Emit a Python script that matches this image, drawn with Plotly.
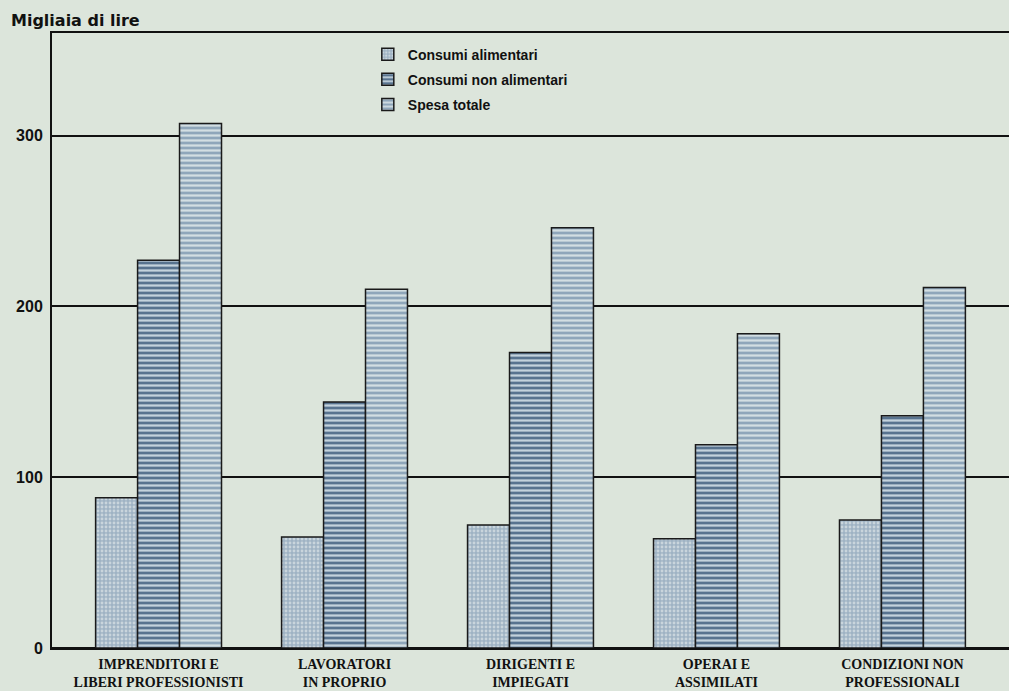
import plotly.graph_objects as go

categories = [
    "IMPRENDITORI E<br>LIBERI PROFESSIONISTI",
    "LAVORATORI<br>IN PROPRIO",
    "DIRIGENTI E<br>IMPIEGATI",
    "OPERAI E<br>ASSIMILATI",
    "CONDIZIONI NON<br>PROFESSIONALI",
]
series_names = ["Consumi alimentari", "Consumi non alimentari", "Spesa totale"]
consumi_alimentari = [88, 65, 72, 64, 75]
consumi_non_alimentari = [227, 144, 173, 119, 136]
spesa_totale = [307, 210, 246, 184, 211]
y_ticks = [0, 100, 200, 300]

bg = "#dce5db"
styles = [
    dict(shape=".", bgcolor="#9fb3c4", fgcolor="#c9d5dc", size=4, solidity=0.4),
    dict(shape="-", bgcolor="#58738f", fgcolor="#c3d2dc", size=5, solidity=0.45),
    dict(shape="-", bgcolor="#8fa6ba", fgcolor="#d3dee2", size=5, solidity=0.45),
]

fig = go.Figure()
for name, vals, st in zip(series_names, [consumi_alimentari, consumi_non_alimentari, spesa_totale], styles):
    fig.add_trace(go.Bar(
        name=name, x=categories, y=vals, legendgroup=name,
        marker=dict(color=st["bgcolor"], line=dict(color="#1a1a1a", width=1.5),
                    pattern=dict(shape=st["shape"], bgcolor=st["bgcolor"], fgcolor=st["fgcolor"],
                                 size=st["size"], solidity=st["solidity"], fillmode="replace")),
    ))

fig.update_layout(
    width=1009, height=691,
    margin=dict(l=52, r=0, t=33, b=43),
    paper_bgcolor=bg, plot_bgcolor=bg,
    barmode="group", bargap=0.323, bargroupgap=0,
    showlegend=True,
    legend=dict(x=0.33, y=0.991, xanchor="left", yanchor="top", bgcolor="rgba(0,0,0,0)",
                font=dict(family="Liberation Sans", size=14, color="#111", weight="bold"),
                tracegroupgap=4),
    font=dict(family="Liberation Sans", color="#111"),
)
fig.update_xaxes(
    range=[-0.573, 4.573], showgrid=False, showline=True, mirror=True,
    linecolor="#111", linewidth=2, ticks="", ticklabelstandoff=2,
    tickfont=dict(family="Liberation Serif", size=14, color="#111", weight="bold"),
)
fig.update_yaxes(
    range=[0, 360], tickvals=y_ticks, showgrid=True, gridcolor="#111", gridwidth=2,
    zeroline=True, zerolinecolor="#111", zerolinewidth=2,
    showline=True, linecolor="#111", linewidth=2, ticks="", ticklabelstandoff=4,
    tickfont=dict(family="Liberation Sans", size=16, color="#111", weight="bold"),
)
fig.add_annotation(text="<b>Migliaia di lire</b>", xref="paper", yref="paper", x=-0.045, y=1.002,
                   xanchor="left", yanchor="bottom", showarrow=False,
                   font=dict(family="DejaVu Sans", size=16, color="#111"))
fig.write_html("out.html", config={"displayModeBar": False},
               post_script="document.body.style.margin='0';document.body.style.overflow='hidden';")
